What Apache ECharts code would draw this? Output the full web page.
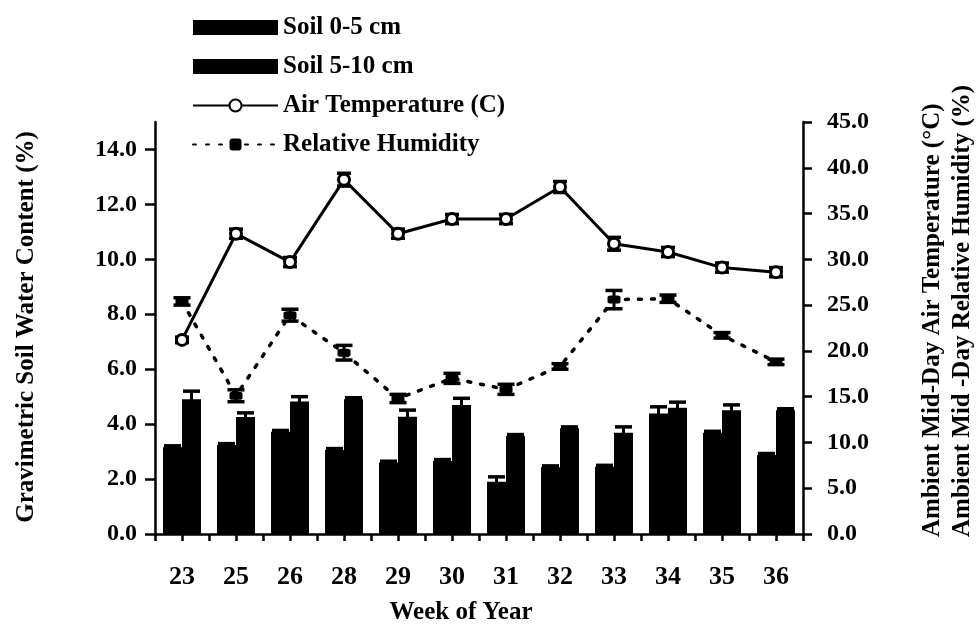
<!DOCTYPE html>
<html>
<head>
<meta charset="utf-8">
<script src="https://cdn.jsdelivr.net/npm/echarts@6/dist/echarts.min.js"></script>
<style>
html,body{margin:0;padding:0;background:#fff;}
#chart{width:978px;height:624px;}
</style>
</head>
<body>
<div id="chart"></div>
<script>
const weeks = ['23','25','26','28','29','30','31','32','33','34','35','36'];
const soilShallow = [3.16, 3.24, 3.72, 3.06, 2.60, 2.66, 1.90, 2.43, 2.45, 4.39, 3.69, 2.88];
const soilShallowErr = [0.05, 0.05, 0.05, 0.05, 0.05, 0.05, 0.18, 0.05, 0.05, 0.24, 0.05, 0.05];
const soilDeep = [4.91, 4.26, 4.82, 4.91, 4.27, 4.70, 3.57, 3.85, 3.69, 4.60, 4.51, 4.51];
const soilDeepErr = [0.29, 0.15, 0.18, 0.05, 0.24, 0.24, 0.05, 0.05, 0.21, 0.20, 0.19, 0.05];
const airTemp = [21.2, 32.8, 29.7, 38.7, 32.8, 34.4, 34.4, 37.9, 31.7, 30.8, 29.1, 28.6];
const airTempErr = [0.3, 0.5, 0.5, 0.7, 0.5, 0.5, 0.5, 0.6, 0.7, 0.5, 0.5, 0.5];
const relHumidity = [25.4, 15.1, 23.9, 19.8, 14.8, 17.0, 15.8, 18.3, 25.6, 25.7, 21.7, 18.8];
const relHumidityErr = [0.4, 0.65, 0.65, 0.8, 0.45, 0.55, 0.55, 0.3, 1.0, 0.4, 0.3, 0.3];
const leftTicks = [0, 2, 4, 6, 8, 10, 12, 14];
const rightTicks = [0, 5, 10, 15, 20, 25, 30, 35, 40, 45];

const FONT = 'Liberation Serif';
const chart = echarts.init(document.getElementById('chart'), null, {renderer: 'canvas'});

function errData(vals, errs) {
  return vals.map((v, i) => [i, v, errs[i]]);
}
function errRenderer(offset, capW) {
  return function (params, api) {
    const i = api.value(0), v = api.value(1), e = api.value(2);
    const hi = api.coord([i, v + e]);
    const lo = api.coord([i, v - e]);
    const x = hi[0] + offset;
    const st = {stroke: '#000', lineWidth: 3};
    return {
      type: 'group',
      children: [
        {type: 'line', shape: {x1: x, y1: hi[1], x2: x, y2: lo[1]}, style: st},
        {type: 'line', shape: {x1: x - capW / 2, y1: hi[1], x2: x + capW / 2, y2: hi[1]}, style: {stroke: '#000', lineWidth: 3.5}},
        {type: 'line', shape: {x1: x - capW / 2, y1: lo[1], x2: x + capW / 2, y2: lo[1]}, style: {stroke: '#000', lineWidth: 3.5}}
      ]
    };
  };
}

const labelStyle = {fontFamily: FONT, fontWeight: 'bold', color: '#000'};

const option = {
  animation: false,
  backgroundColor: '#fff',
  grid: {left: 155, right: 175, top: 122, bottom: 90},
  legend: {
    orient: 'vertical',
    left: 192,
    top: 15,
    padding: 0,
    itemWidth: 85,
    itemHeight: 15,
    itemGap: 14,
    textStyle: {fontFamily: FONT, fontWeight: 'bold', fontSize: 25, color: '#000', lineHeight: 24},
    data: [
      {name: 'Soil 0-5 cm', icon: 'rect'},
      {name: 'Soil 5-10 cm', icon: 'rect'},
      'Air Temperature (C)',
      'Relative Humidity'
    ]
  },
  xAxis: [
    {
      type: 'category',
      data: weeks,
      position: 'bottom',
      axisLine: {show: true, lineStyle: {color: '#000', width: 2.5}},
      axisTick: {show: false},
      axisLabel: Object.assign({fontSize: 26, margin: 30}, labelStyle),
      splitLine: {show: false}
    },
    {
      type: 'value',
      min: 0, max: 24, interval: 1,
      position: 'bottom',
      axisLine: {show: false},
      axisTick: {show: true, length: 7, lineStyle: {color: '#000', width: 2.5}},
      axisLabel: {show: false},
      splitLine: {show: false}
    }
  ],
  yAxis: [
    {
      type: 'value',
      min: 0, max: 15,
      position: 'left',
      axisLine: {show: true, lineStyle: {color: '#000', width: 2.5}},
      axisTick: {show: true, length: 10, customValues: leftTicks, lineStyle: {color: '#000', width: 2.5}},
      axisLabel: Object.assign({fontSize: 24, margin: 18, customValues: leftTicks, formatter: v => v.toFixed(1)}, labelStyle),
      splitLine: {show: false}
    },
    {
      type: 'value',
      min: 0, max: 45, interval: 5,
      position: 'right',
      axisLine: {show: true, lineStyle: {color: '#000', width: 2.5}},
      axisTick: {show: true, length: 9, customValues: rightTicks, lineStyle: {color: '#000', width: 2.5}},
      axisLabel: Object.assign({fontSize: 24, margin: 24, customValues: rightTicks, formatter: v => v.toFixed(1)}, labelStyle),
      splitLine: {show: false}
    }
  ],
  series: [
    {
      name: 'Soil 0-5 cm', type: 'bar', yAxisIndex: 0, xAxisIndex: 0,
      data: soilShallow, barWidth: 19, barGap: '0%',
      itemStyle: {color: '#000'}, z: 2
    },
    {
      name: 'Soil 5-10 cm', type: 'bar', yAxisIndex: 0, xAxisIndex: 0,
      data: soilDeep, barWidth: 19, barGap: '0%',
      itemStyle: {color: '#000'}, z: 2
    },
    {
      type: 'custom', xAxisIndex: 0, yAxisIndex: 0, z: 3,
      renderItem: errRenderer(-9.5, 17), data: errData(soilShallow, soilShallowErr)
    },
    {
      type: 'custom', xAxisIndex: 0, yAxisIndex: 0, z: 3,
      renderItem: errRenderer(9.5, 17), data: errData(soilDeep, soilDeepErr)
    },
    {
      type: 'custom', xAxisIndex: 0, yAxisIndex: 1, z: 3,
      renderItem: errRenderer(0, 14), data: errData(airTemp, airTempErr)
    },
    {
      type: 'custom', xAxisIndex: 0, yAxisIndex: 1, z: 3,
      renderItem: errRenderer(0, 17), data: errData(relHumidity, relHumidityErr)
    },
    {
      name: 'Air Temperature (C)', type: 'line', yAxisIndex: 1, xAxisIndex: 0,
      data: airTemp, symbol: 'circle', symbolSize: 11,
      itemStyle: {color: '#fff', borderColor: '#000', borderWidth: 3},
      lineStyle: {color: '#000', width: 3}, z: 5
    },
    {
      name: 'Relative Humidity', type: 'line', yAxisIndex: 1, xAxisIndex: 0,
      data: relHumidity, symbol: 'roundRect', symbolSize: [13, 8],
      itemStyle: {color: '#000'},
      lineStyle: {color: '#000', width: 3.5, type: [3, 10], cap: 'round'}, z: 5
    }
  ],
  graphic: [
    {
      type: 'text', x: 27, y: 327, rotation: Math.PI / 2,
      style: {text: 'Gravimetric Soil Water Content (%)', font: 'bold 25px "Liberation Serif"', fill: '#000', textAlign: 'center', textVerticalAlign: 'middle'}
    },
    {
      type: 'text', x: 933, y: 537, rotation: Math.PI / 2,
      style: {text: 'Ambient Mid-Day Air Temperature (\u00B0C)', font: 'bold 25px "Liberation Serif"', fill: '#000', textAlign: 'left', textVerticalAlign: 'middle'}
    },
    {
      type: 'text', x: 963, y: 537, rotation: Math.PI / 2,
      style: {text: 'Ambient Mid -Day Relative Humidity (%)', font: 'bold 25px "Liberation Serif"', fill: '#000', textAlign: 'left', textVerticalAlign: 'middle'}
    },
    {
      type: 'text', x: 461, y: 613,
      style: {text: 'Week of Year', font: 'bold 25px "Liberation Serif"', fill: '#000', textAlign: 'center', textVerticalAlign: 'middle'}
    }
  ]
};
chart.setOption(option);
</script>
</body>
</html>
